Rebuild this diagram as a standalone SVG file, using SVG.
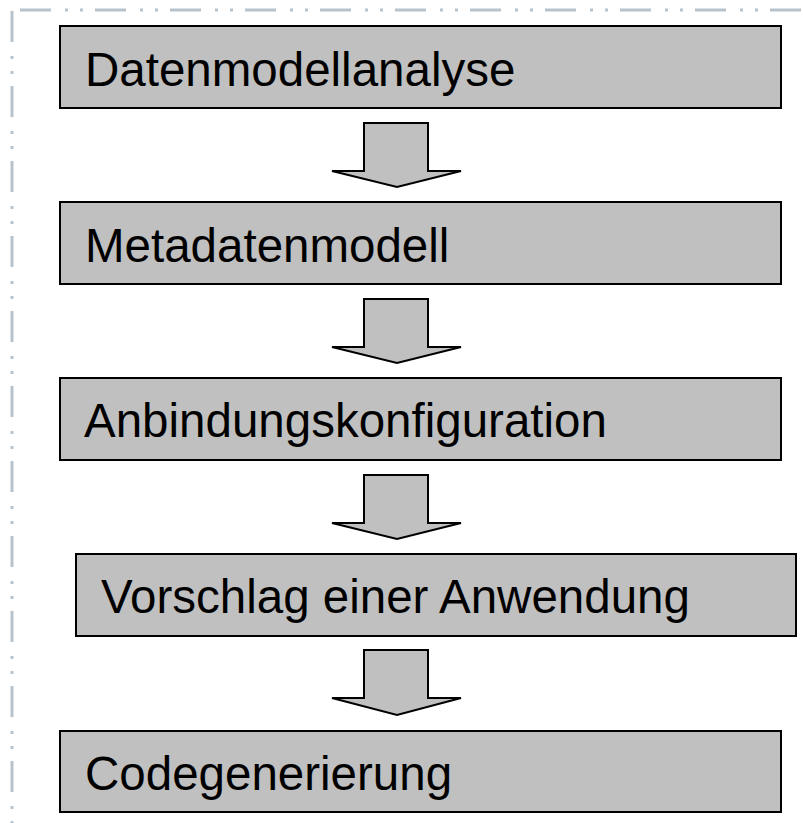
<svg xmlns="http://www.w3.org/2000/svg" width="803" height="823" viewBox="0 0 803 823">
<style>
.frame{fill:none;stroke:#b7c3cc;stroke-width:3;stroke-dasharray:31 14 3 12 3 12}
.box{fill:#c0c0c0;stroke:#000;stroke-width:2}
.lbl{font-family:"Liberation Sans",Arial,sans-serif;font-size:47.5px;fill:#000}
.arr{fill:#c0c0c0;stroke:#000;stroke-width:2;stroke-linejoin:miter}
</style>
<rect width="803" height="823" fill="#fff"/>
<g id="frame">
<line class="frame" x1="20" y1="10" x2="803" y2="10"/>
<line class="frame" x1="12" y1="11" x2="12" y2="823"/>
</g>
<g id="n1"><rect class="box" x="60" y="26" width="721" height="82"/><text class="lbl" x="85" y="86">Datenmodellanalyse</text></g>
<g id="n2"><rect class="box" x="60" y="202" width="721" height="82"/><text class="lbl" x="85" y="262">Metadatenmodell</text></g>
<g id="n3"><rect class="box" x="60" y="378" width="721" height="82"/><text class="lbl" x="84" y="437">Anbindungskonfiguration</text></g>
<g id="n4"><rect class="box" x="76" y="554" width="720" height="82"/><text class="lbl" x="101" y="613">Vorschlag einer Anwendung</text></g>
<g id="n5"><rect class="box" x="60" y="731" width="721" height="81"/><text class="lbl" x="85" y="790">Codegenerierung</text></g>
<g id="connectors">
<path class="arr" d="M364 123H428V171H461L397 187L332 171H364Z"/>
<path class="arr" d="M364 299H428V347H461L397 363L332 347H364Z"/>
<path class="arr" d="M364 475H428V523H461L397 539L332 523H364Z"/>
<path class="arr" d="M364 650H428V698H461L397 715L332 698H364Z"/>
</g>
</svg>
